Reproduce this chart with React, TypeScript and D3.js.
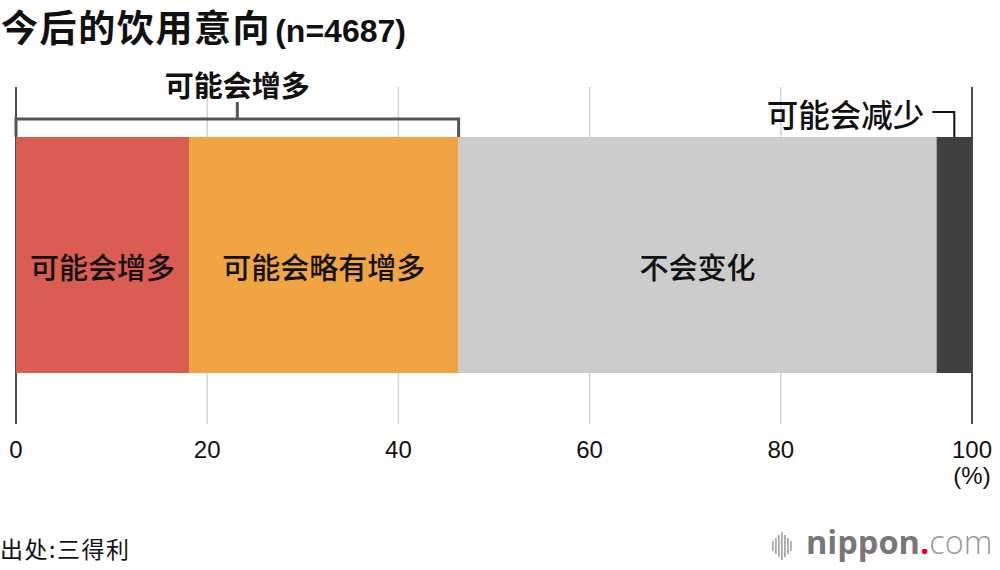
import React from "react";
import * as d3 from "d3";

// Survey answers (share of respondents, %)
const categories = ["可能会增多", "可能会略有增多", "不会变化", "可能会减少"];
const shares = [18.1, 28.2, 50.0, 3.7];
const colors = ["#DB5C50", "#F0A442", "#CCCCCC", "#404040"];
const tickValues = [0, 20, 40, 60, 80, 100];

const W = 1000;
const H = 570;
const CJK = "'Noto Sans CJK SC', 'Noto Sans', sans-serif";
const LATIN = "'Liberation Sans', 'Arial', sans-serif";

export default function App() {
  const x = d3.scaleLinear().domain([0, 100]).range([16, 972]);
  const barTop = 137;
  const barBottom = 373;
  const gridTop = 87;
  const gridBottom = 424;

  const cum = d3.cumsum(shares);
  const segs = shares.map((v, i) => ({
    name: categories[i],
    start: i === 0 ? 0 : cum[i - 1],
    end: cum[i],
    color: colors[i],
  }));

  // bracket spanning the two "increase" segments
  const incEnd = segs[1].end;
  const bx0 = x(0);
  const bx1 = x(incEnd);
  const bMid = (bx0 + bx1) / 2;
  const bY = 119;

  // leader for the small "decrease" segment
  const decMid = x((segs[3].start + segs[3].end) / 2);

  return (
    <svg
      width={W}
      height={H}
      style={{ position: "absolute", left: 0, top: 0, display: "block", background: "#fff" }}
    >
      {/* title */}
      <text x={1} y={42} fontFamily={CJK} fontWeight={700} fontSize={37} letterSpacing={1.6} fill="#111">
        今后的饮用意向
        <tspan fontSize={32} fontFamily={LATIN} fontWeight={700} letterSpacing={0} dx={4}>(n=4687)</tspan>
      </text>

      {/* grid lines */}
      {tickValues.map((t) => (
        <line
          key={"g" + t}
          x1={x(t)}
          x2={x(t)}
          y1={gridTop}
          y2={gridBottom}
          stroke={t === 0 || t === 100 ? "#111" : "#d4d4d4"}
          strokeWidth={1.5}
        />
      ))}

      {/* stacked bar */}
      {segs.map((s) => (
        <rect
          key={s.name}
          x={x(s.start)}
          y={barTop}
          width={x(s.end) - x(s.start)}
          height={barBottom - barTop}
          fill={s.color}
        />
      ))}

      {/* segment labels */}
      {segs.slice(0, 3).map((s) => (
        <text
          key={"l" + s.name}
          x={(x(s.start) + x(s.end)) / 2}
          y={266}
          textAnchor="middle"
          dominantBaseline="central"
          fontFamily={CJK}
          fontWeight={500}
          fontSize={29}
          fill="#111"
        >
          {s.name}
        </text>
      ))}

      {/* bracket for the increase group */}
      <path
        d={`M${bx0},${barTop} V${bY} H${bx1} V${barTop}`}
        fill="none"
        stroke="#555"
        strokeWidth={3}
      />
      <line x1={bMid} x2={bMid} y1={bY} y2={102} stroke="#555" strokeWidth={3} />
      <text
        x={bMid}
        y={97}
        textAnchor="middle"
        fontFamily={CJK}
        fontWeight={700}
        fontSize={29}
        fill="#111"
      >
        {categories[0]}
      </text>

      {/* leader for the decrease segment */}
      <path
        d={`M${decMid - 22},112 H${decMid} V${barTop}`}
        fill="none"
        stroke="#111"
        strokeWidth={2}
      />
      <text
        x={decMid - 30}
        y={127}
        textAnchor="end"
        fontFamily={CJK}
        fontWeight={500}
        fontSize={31.5}
        fill="#111"
      >
        {categories[3]}
      </text>

      {/* x-axis tick labels */}
      {tickValues.map((t) => (
        <text
          key={"t" + t}
          x={x(t)}
          y={458}
          textAnchor="middle"
          fontFamily={LATIN}
          fontSize={24}
          fill="#111"
        >
          {t}
        </text>
      ))}
      <text x={x(100)} y={484} textAnchor="middle" fontFamily={LATIN} fontSize={24} fill="#111">
        (%)
      </text>

      {/* source */}
      <text x={0} y={558} fontFamily={CJK} fontSize={23} letterSpacing={1.5} fill="#111">
        出处:三得利
      </text>

      {/* logo */}
      <g transform="translate(772,548)">
        {[
          [0, 10], [3, 16], [6, 22], [9, 28], [12, 22], [15, 16], [18, 10],
        ].map(([dx, h], i) => (
          <rect key={i} x={dx} y={-h / 2 - 2} width={1.8} height={h} fill="#aaa" />
        ))}
        <text x={34} y={6} fontFamily="'Open Sans', 'Roboto', sans-serif" fontSize={32.5} fill="#777">
          <tspan fontWeight={700}>nippon</tspan>
          <tspan fill="#e60012" fontWeight={700}>.</tspan>
          <tspan fontWeight={300} fill="#999">com</tspan>
        </text>
      </g>
    </svg>
  );
}
